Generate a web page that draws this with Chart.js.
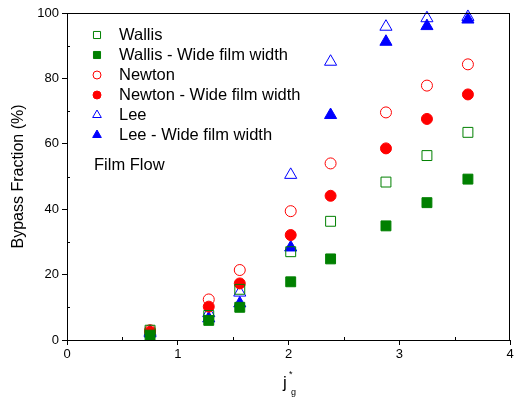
<!DOCTYPE html>
<html>
<head>
<meta charset="utf-8">
<script src="https://cdn.jsdelivr.net/npm/chart.js@4"></script>
<style>
  html, body { margin: 0; padding: 0; background: #fff; }
  #wrap { width: 514px; height: 405px; }
</style>
</head>
<body>
<div id="wrap"><canvas id="chart" width="514" height="405"></canvas></div>
<script>
const jg = [0.75, 1.28, 1.56, 2.02, 2.38, 2.88, 3.25, 3.62];
const wallis = [3, 7.5, 15.5, 27, 36.3, 48.3, 56.4, 63.5];
const wallisWide = [1.5, 6, 10, 17.8, 24.8, 34.9, 42, 49.2];
const newton = [3, 12.4, 21.4, 39.4, 54, 69.6, 77.8, 84.3];
const newtonWide = [2.5, 10.2, 17.3, 32.1, 44.1, 58.6, 67.6, 75.1];
const lee = [2.5, 8.2, 14.5, 50.5, 85.1, 95.8, 98.4, 98.8];
const leeWide = [2, 6.6, 11.2, 28.3, 68.8, 91.2, 96, 98];
const yTicks = [0, 20, 40, 60, 80, 100];
const xTicks = [0, 1, 2, 3, 4];

const GREEN = '#008000';
const RED = '#ff0000';
const BLUE = '#0000ff';
const FONT = '"Liberation Sans", Arial, sans-serif';

function pts(ys) {
    return jg.map((x, i) => ({ x, y: ys[i] }));
}

function series(label, ys, color, style, filled, radius) {
    return {
        label,
        data: pts(ys),
        pointStyle: style,
        pointRadius: radius,
        pointHoverRadius: radius,
        pointBorderWidth: 1,
        borderColor: color,
        backgroundColor: filled ? color : 'rgba(255,255,255,0)',
        showLine: false,
        clip: false,
    };
}

// legend + frame + axis title drawn inside the plot
const extras = {
    id: 'extras',
    afterDraw(chart) {
        const ctx = chart.ctx;
        const a = chart.chartArea;
        ctx.save();
        ctx.strokeStyle = '#000';
        ctx.lineWidth = 1;
        ctx.strokeRect(a.left + 0.5, a.top + 0.5, a.right - a.left - 1, a.bottom - a.top);

        // minor ticks
        const xs = chart.scales.x, ys = chart.scales.y;
        ctx.beginPath();
        [0.5, 1.5, 2.5, 3.5].forEach(v => {
            const px = Math.round(xs.getPixelForValue(v)) + 0.5;
            ctx.moveTo(px, a.bottom); ctx.lineTo(px, a.bottom - 3);
        });
        [10, 30, 50, 70, 90].forEach(v => {
            const py = Math.round(ys.getPixelForValue(v)) + 0.5;
            ctx.moveTo(a.left, py); ctx.lineTo(a.left + 3, py);
        });
        ctx.stroke();

        // legend
        ctx.font = '16.5px ' + FONT;
        ctx.textBaseline = 'middle';
        chart.data.datasets.forEach((ds, i) => {
            const y = 35 + i * 20;
            ctx.fillStyle = '#000';
            ctx.fillText(ds.label, 119, y);
            ctx.strokeStyle = ds.borderColor;
            ctx.fillStyle = ds.backgroundColor;
            Chart.helpers.drawPoint(ctx, {
                pointStyle: ds.pointStyle,
                radius: ds.pointStyle === 'circle' ? 4 : 5,
                borderWidth: 1,
            }, 97, y);
        });
        ctx.fillStyle = '#000';
        ctx.fillText('Film Flow', 94, 165);

        // x axis title j*_g
        ctx.font = '17px ' + FONT;
        ctx.textBaseline = 'alphabetic';
        ctx.fillText('j', 283, 388);
        ctx.font = '9px ' + FONT;
        ctx.fillText('*', 289, 377);
        ctx.fillText('g', 291, 395);
        ctx.restore();
    },
};

new Chart(document.getElementById('chart'), {
    type: 'scatter',
    data: {
        datasets: [
            series('Wallis', wallis, GREEN, 'rect', false, 7),
            series('Wallis - Wide film width', wallisWide, GREEN, 'rect', true, 7),
            series('Newton', newton, RED, 'circle', false, 5.5),
            series('Newton - Wide film width', newtonWide, RED, 'circle', true, 5.5),
            series('Lee', lee, BLUE, 'triangle', false, 7),
            series('Lee - Wide film width', leeWide, BLUE, 'triangle', true, 7),
        ],
    },
    options: {
        responsive: false,
        animation: false,
        layout: { autoPadding: false, padding: { left: 0, top: 13, right: 4, bottom: 0 } },
        plugins: {
            legend: { display: false },
            tooltip: { enabled: false },
        },
        scales: {
            x: {
                type: 'linear',
                min: 0,
                max: 4,
                afterBuildTicks(scale) { scale.ticks = xTicks.map(v => ({ value: v })); },
                afterFit(scale) {
                    scale.height = 65;
                    scale.paddingRight = 0;
                    scale.paddingLeft = 0;
                },
                ticks: { color: '#000', font: { family: FONT, size: 13 }, padding: 2 },
                grid: { drawOnChartArea: false, tickLength: 5, color: '#000' },
                border: { color: '#000', width: 1 },
            },
            y: {
                min: 0,
                max: 100,
                afterBuildTicks(scale) { scale.ticks = yTicks.map(v => ({ value: v })); },
                afterFit(scale) { scale.width = 67; },
                ticks: { color: '#000', font: { family: FONT, size: 13 }, padding: 3 },
                grid: { drawOnChartArea: false, tickLength: 5, color: '#000' },
                border: { color: '#000', width: 1 },
                title: {
                    display: true,
                    text: 'Bypass Fraction (%)',
                    color: '#000',
                    font: { family: FONT, size: 16 },
                    padding: { top: 9, bottom: 0 },
                },
            },
        },
    },
    plugins: [extras],
});
</script>
</body>
</html>
